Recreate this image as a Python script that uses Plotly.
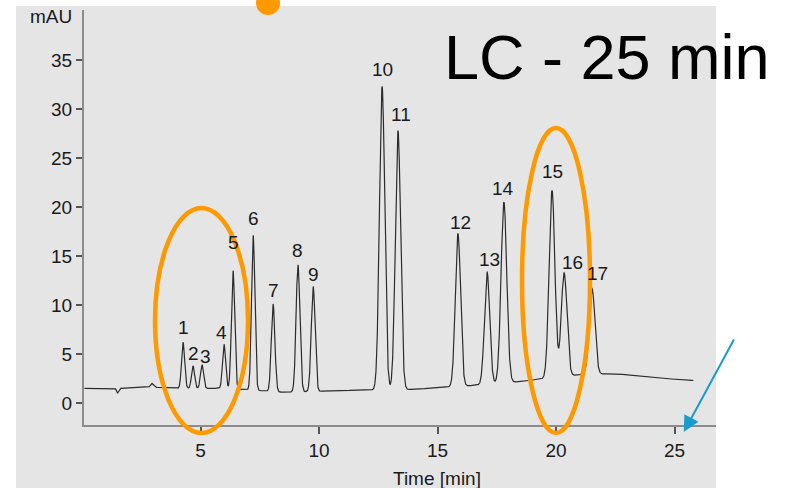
import numpy as np
import plotly.graph_objects as go

# Peak table: retention time (min), apex height (mAU), width sigma (min)
peak_ids = [str(i) for i in range(1, 18)]
peak_times = [4.26, 4.68, 5.06, 5.99, 6.37, 7.22, 8.06, 9.11, 9.75,
              12.66, 13.33, 15.86, 17.09, 17.80, 19.83, 20.34, 21.52]
peak_heights = [6.2, 3.8, 3.9, 6.0, 13.5, 17.1, 10.1, 14.1, 11.9,
                32.3, 27.8, 17.3, 13.4, 20.5, 21.7, 13.3, 11.7]
peak_sigmas = [0.065, 0.065, 0.065, 0.065, 0.07, 0.07, 0.075, 0.08, 0.08,
               0.11, 0.11, 0.11, 0.11, 0.12, 0.12, 0.12, 0.12]

# Detector baseline (time, mAU)
base_times = [0.1, 1.4, 1.5, 1.6, 2.8, 2.95, 3.1, 3.8, 6.0, 8.5, 11.5, 14.0,
              16.5, 18.5, 21.0, 22.5, 24.0, 25.8]
base_values = [1.5, 1.5, 1.0, 1.5, 1.6, 2.0, 1.6, 1.5, 1.5, 1.1, 1.3, 1.4,
               1.8, 2.2, 2.9, 3.0, 2.6, 2.3]

x_ticks = [5, 10, 15, 20, 25]
y_ticks = [0, 5, 10, 15, 20, 25, 30, 35]

t = np.arange(0.1, 25.8, 0.004)
baseline = np.interp(t, base_times, base_values)
signal = baseline.copy()
for tr, h, s in zip(peak_times, peak_heights, peak_sigmas):
    amp = h - np.interp(tr, base_times, base_values)
    signal += amp * np.exp(-0.5 * ((t - tr) / s) ** 2)

label_font = dict(family="Liberation Sans Narrow, Arial Narrow, Liberation Sans, sans-serif",
                  size=19, color="#1a1a1a")

fig = go.Figure()
fig.add_trace(go.Scatter(x=t, y=signal, mode="lines",
                         line=dict(color="#2b2b2b", width=1.2),
                         hoverinfo="skip", showlegend=False))

# Peak number labels above each apex (pixel offsets for crowded peaks)
label_dx = [0, 0, 3, -3, 0, 0, 0, 0, 0, 0, 3, 3, 2, -1, 0, 8, 5]
label_dy = [15, 12, 8, 12, 28, 17, 14, 14, 12, 17, 16, 11, 12, 14, 19, 10, 15]
annotations = []
for name, tr, h, dx, dy in zip(peak_ids, peak_times, peak_heights, label_dx, label_dy):
    annotations.append(dict(x=tr, y=h, xref="x", yref="y", text=name,
                            showarrow=False, xshift=dx, yshift=dy,
                            yanchor="middle", font=label_font))

annotations.append(dict(x=-0.016, y=0.985, xref="paper", yref="paper", text="mAU",
                        showarrow=False, xanchor="right", yanchor="middle",
                        font=label_font))
annotations.append(dict(x=0.5585, y=-0.128, xref="paper", yref="paper",
                        text="Time [min]", showarrow=False, yanchor="middle",
                        font=label_font))
annotations.append(dict(x=0.566, y=0.886, xref="paper", yref="paper",
                        text="LC - 25 min", showarrow=False, xanchor="left",
                        yanchor="middle",
                        font=dict(family="Liberation Sans, Arial, sans-serif",
                                  size=63, color="#000000")))
# Blue pointer towards the end of the run
annotations.append(dict(x=0.949, y=-0.017, xref="paper", yref="paper", text="",
                        showarrow=True, ax=51, ay=-94, arrowhead=2,
                        arrowsize=1.6, arrowwidth=2, arrowcolor="#1a9bd0"))

orange = "#ff9900"
shapes = [
    dict(type="rect", xref="paper", yref="paper", x0=-0.1076, x1=1.0,
         y0=-0.16, y1=1.0096, fillcolor="#e5e5e5", line=dict(width=0),
         layer="below"),
    dict(type="circle", xref="paper", yref="paper",
         x0=(155 - 84) / 632, x1=(248 - 84) / 632,
         y0=(425 - 433) / 415, y1=(425 - 208) / 415,
         line=dict(color=orange, width=4.5)),
    dict(type="circle", xref="paper", yref="paper",
         x0=(522 - 84) / 632, x1=(590 - 84) / 632,
         y0=(425 - 433) / 415, y1=(425 - 128) / 415,
         line=dict(color=orange, width=4.5)),
    dict(type="circle", xref="paper", yref="paper",
         x0=(256 - 84) / 632, x1=(280 - 84) / 632,
         y0=(425 + 9) / 415, y1=(425 - 15) / 415,
         fillcolor=orange, line=dict(width=0)),
]

axis_font = dict(family="Liberation Sans Narrow, Arial Narrow, Liberation Sans, sans-serif",
                 size=19, color="#1a1a1a")
fig.update_layout(
    width=791, height=488,
    margin=dict(l=84, r=75, t=10, b=63),
    paper_bgcolor="white", plot_bgcolor="#e5e5e5",
    shapes=shapes, annotations=annotations,
    xaxis=dict(range=[0.08, 26.75], tickvals=x_ticks, ticks="outside",
               ticklen=7, tickwidth=1.5, tickcolor="#555555",
               showline=True, linecolor="#8c8c8c", linewidth=2,
               showgrid=False, zeroline=False, tickfont=axis_font),
    yaxis=dict(range=[-2.24, 40.1], tickvals=y_ticks, ticks="outside",
               ticklen=6, tickwidth=1.5, tickcolor="#555555",
               showline=True, linecolor="#8c8c8c", linewidth=2,
               showgrid=False, zeroline=False, tickfont=axis_font),
)

fig.write_html("out.html")
